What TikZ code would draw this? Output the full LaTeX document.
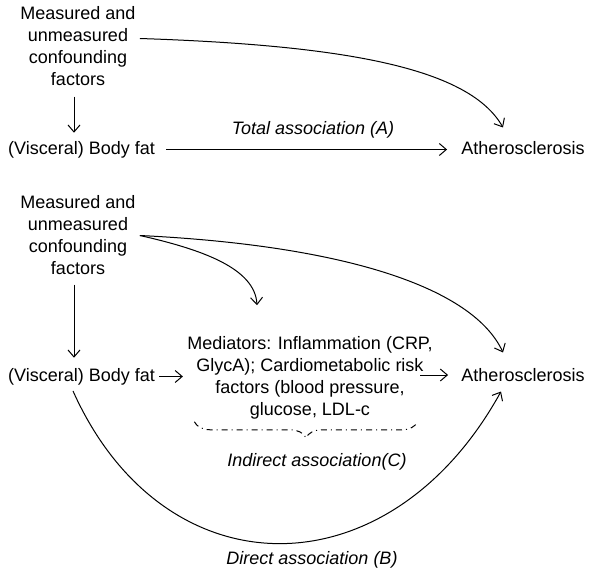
\documentclass[tikz,border=0pt]{standalone}
\usepackage{fontspec}
\setmainfont{Liberation Sans}
\usetikzlibrary{arrows.meta,decorations.pathreplacing}

\begin{document}
\begin{tikzpicture}[
  x=0.5pt, y=-0.5pt,
  txt/.style={font=\fontsize{9}{11}\selectfont, inner sep=2pt, align=center},
  lbl/.style={txt, font=\fontsize{9}{11}\selectfont\itshape},
  ar/.style={-{Straight Barb[length=3.5pt,width=6pt]}, line width=0.5pt},
]
\useasboundingbox (0,0) rectangle (589,573);

% Top panel: total association
\node[txt] (conf1) at (78,46.5) {Measured and\\unmeasured\\confounding\\factors};
\node[txt] (fat1) at (81.5,149.5) {(Visceral) Body fat};
\node[txt] (ath1) at (523,148) {Atherosclerosis};
\node[lbl] (tot) at (313,130) {Total association (A)};
\draw[ar] ([xshift=-2pt,yshift=-3pt]conf1.south) -- ([xshift=-3.75pt,yshift=2pt]fat1.north);
\draw[ar] ([xshift=3.5pt]fat1.east) -- ([xshift=-5pt]ath1.west |- fat1.east);
\draw[ar] ([yshift=4pt]conf1.east) .. controls +(212,7) and +(-33,-58) .. ([shift={(-10pt,4.75pt)}]ath1.north);

% Bottom panel: direct and indirect association
\node[txt] (conf2) at (78,235.5) {Measured and\\unmeasured\\confounding\\factors};
\node[txt] (fat2) at (81.5,376.5) {(Visceral) Body fat};
\node[txt] (med) at (310,378) {Mediators: Inflammation (CRP,\\GlycA); Cardiometabolic risk\\factors (blood pressure,\\glucose, LDL-c};
\node[txt] (ath2) at (523,375) {Atherosclerosis};
\node[lbl] (ind) at (317,462) {Indirect association(C)};
\node[lbl] (dir) at (312,560) {Direct association (B)};
\draw[ar] ([xshift=-2pt,yshift=-2.5pt]conf2.south) -- ([xshift=-3.75pt,yshift=3pt]fat2.north);
\draw[ar] (fat2.east) -- (med.west |- fat2.east);
\draw[ar] ([xshift=-8.5pt]med.east |- ath2.west) -- ([xshift=-4.5pt]ath2.west);
\draw[ar] (conf2.east) .. controls +(62,14) and +(-2,-37) .. ([shift={(-26.5pt,13.5pt)}]med.north);
\draw[ar] (conf2.east) .. controls +(205,10) and +(-30,-65) .. ([shift={(-10pt,5.75pt)}]ath2.north);
\draw[ar] ([shift={(-4.25pt,-0.85pt)}]fat2.south) .. controls +(91,203) and +(-112,203) .. ([shift={(-11pt,-2.75pt)}]ath2.south);

% Mediator brace
\draw[line width=0.5pt, dash dot, decorate, decoration={brace, mirror, amplitude=8pt}]
  ([xshift=5.75pt,yshift=1pt]med.south west) -- ([xshift=-9.75pt,yshift=1pt]med.south east);
\end{tikzpicture}
\end{document}
